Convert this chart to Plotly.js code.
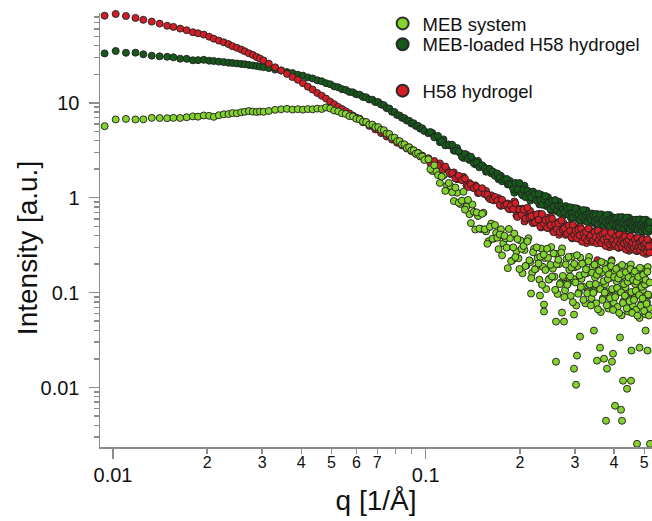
<!DOCTYPE html>
<html>
<head>
<meta charset="utf-8">
<script src="https://cdn.plot.ly/plotly-3.0.1.min.js"></script>
<style>
html,body{margin:0;padding:0;background:#fff;}
#chart{width:652px;height:521px;}
</style>
</head>
<body>
<div id="chart"></div>
<script>
// ---------- data ----------
const q = [
0.0094,0.0102,0.0110,0.0118,0.0125,0.0133,0.0141,0.0149,0.0156,0.0164,0.0172,0.0180,0.0187,0.0195,0.0203,0.0210,0.0218,0.0226,0.0234,0.0241,0.0249,0.0257,0.0264,0.0272,0.0280,0.0288,0.0295,0.0303,
0.0315,0.0330,0.0345,0.0360,0.0375,0.0390,0.0405,0.0420,0.0435,0.0450,0.0465,0.0480,0.0495,0.0510,0.0525,0.0540,0.0555,0.0570,0.0585,0.0600,0.0615,0.0630,0.0645,0.0660,0.0675,0.0690,0.0705,0.0720,0.0735,0.0750,0.0765,0.0780,0.0795,0.0810,0.0825,0.0840,0.0855,0.0870,0.0885,0.0900,0.0915,0.0930,0.0945,0.0960,0.0975,0.0990,
0.102,0.105,0.108,0.111,0.114,0.117,0.120,0.123,0.126,0.129,0.132,0.135,0.138,0.141,0.144,0.147,0.150,0.153,0.156,0.159,
0.162,0.165,0.168,0.171,0.174,0.177,0.180,0.183,0.186,0.189,0.192,0.195,0.198,0.201,0.204,0.207,0.210,0.213,0.216,0.219,
0.222,0.225,0.228,0.231,0.234,0.237,0.240,0.243,0.246,0.249,0.252,0.255,0.258,0.261,0.264,0.267,0.270,0.273,0.276,0.279,
0.282,0.285,0.288,0.291,0.294,0.297,0.300,0.303,0.306,0.309,0.312,0.315,0.318,0.321,0.324,0.327,0.330,0.333,0.336,0.339,
0.342,0.345,0.348,0.351,0.354,0.357,0.360,0.363,0.366,0.369,0.372,0.375,0.378,0.381,0.384,0.387,0.390,0.393,0.396,0.399,
0.402,0.405,0.408,0.411,0.414,0.417,0.420,0.423,0.426,0.429,0.432,0.435,0.438,0.441,0.444,0.447,0.450,0.453,0.456,0.459,
0.462,0.465,0.468,0.471,0.474,0.477,0.480,0.483,0.486,0.489,0.492,0.495,0.498,0.501,0.504,0.507,0.510,0.513,0.516,0.519
];

// second set of high-q points (between the ones above)
const q2 = [
0.1035,0.1065,0.1095,0.1125,0.1155,0.1185,0.1215,0.1245,0.1275,0.1305,0.1335,0.1365,0.1395,0.1425,0.1455,0.1485,0.1515,0.1545,0.1575,0.1605,
0.1635,0.1665,0.1695,0.1725,0.1755,0.1785,0.1815,0.1845,0.1875,0.1905,0.1935,0.1965,0.1995,0.2025,0.2055,0.2085,0.2115,0.2145,0.2175,0.2205,
0.2235,0.2265,0.2295,0.2325,0.2355,0.2385,0.2415,0.2445,0.2475,0.2505,0.2535,0.2565,0.2595,0.2625,0.2655,0.2685,0.2715,0.2745,0.2775,0.2805,
0.2835,0.2865,0.2895,0.2925,0.2955,0.2985,0.3015,0.3045,0.3075,0.3105,0.3135,0.3165,0.3195,0.3225,0.3255,0.3285,0.3315,0.3345,0.3375,0.3405,
0.3435,0.3465,0.3495,0.3525,0.3555,0.3585,0.3615,0.3645,0.3675,0.3705,0.3735,0.3765,0.3795,0.3825,0.3855,0.3885,0.3915,0.3945,0.3975,0.4005,
0.4035,0.4065,0.4095,0.4125,0.4155,0.4185,0.4215,0.4245,0.4275,0.4305,0.4335,0.4365,0.4395,0.4425,0.4455,0.4485,0.4515,0.4545,0.4575,0.4605,
0.4635,0.4665,0.4695,0.4725,0.4755,0.4785,0.4815,0.4845,0.4875,0.4905,0.4935,0.4965,0.4995,0.5025,0.5055,0.5085,0.5115,0.5145,0.5175,0.5205
];

const iH58 = [
82.9,86.4,82.3,78.5,75.0,71.8,68.4,65.0,63.2,60.6,58.3,55.5,54.1,52.4,49.8,47.5,45.3,43.5,41.6,39.6,38.0,36.5,34.9,33.3,32.0,30.4,29.3,28.0,
25.9,23.7,21.9,20.2,18.7,17.5,16.1,14.8,13.8,12.7,11.9,11.1,10.3,9.65,9.07,8.6,8.15,7.75,7.35,6.98,6.80,6.25,6.25,5.72,5.70,5.25,5.22,4.80,4.85,4.42,4.50,4.10,4.15,3.80,3.90,3.55,3.60,3.30,3.40,3.10,3.16,2.90,2.98,2.74,2.78,2.58,
2.61,2.27,2.25,2.30,1.86,1.96,1.78,1.85,1.57,1.58,
1.66,1.35,1.43,1.29,1.35,1.12,1.19,1.12,1.18,1.00,
1.06,0.94,0.95,0.99,0.82,0.88,0.825,0.87,0.755,0.775,
0.915,0.649,0.770,0.668,0.768,0.563,0.675,0.627,0.726,0.557,
0.659,0.550,0.594,0.676,0.486,0.585,0.533,0.617,0.480,0.526,
0.627,0.450,0.540,0.473,0.551,0.407,0.493,0.464,0.542,0.420,
0.502,0.419,0.454,0.519,0.373,0.450,0.411,0.478,0.374,0.410,
0.494,0.356,0.431,0.381,0.447,0.333,0.406,0.384,0.452,0.353,
0.425,0.357,0.390,0.448,0.22,0.395,0.363,0.424,0.333,0.369,
0.444,0.321,0.388,0.344,0.403,0.301,0.368,0.22,0.409,0.320,
0.385,0.325,0.354,0.407,0.296,0.360,0.331,0.388,0.304,0.337,
0.405,0.294,0.356,0.314,0.370,0.276,0.337,0.319,0.377,0.294,
0.354,0.299,0.326,0.376,0.273,0.332,0.306,0.358,0.281,0.311,
0.375,0.272,0.330,0.292,0.343,0.256,0.313,0.297,0.350,0.273
];
const iH58b = [
2.32,2.44,2.18,1.92,2.13,1.82,1.82,1.60,1.70,1.53,
1.59,1.30,1.38,1.26,1.30,1.135,1.26,1.09,1.08,0.968,
0.953,1.02,0.930,0.840,0.952,0.833,0.852,0.762,0.828,0.758,
0.877,0.627,0.749,0.661,0.748,0.603,0.786,0.621,0.639,0.539,
0.551,0.668,0.588,0.499,0.672,0.535,0.582,0.481,0.592,0.515,
0.601,0.434,0.525,0.468,0.536,0.437,0.575,0.459,0.476,0.406,
0.420,0.509,0.449,0.383,0.516,0.412,0.449,0.373,0.461,0.402,
0.473,0.344,0.419,0.377,0.435,0.356,0.473,0.380,0.398,0.341,
0.355,0.434,0.386,0.331,0.450,0.361,0.396,0.331,0.411,0.362,
0.426,0.310,0.378,0.340,0.392,0.322,0.428,0.344,0.360,0.310,
0.322,0.394,0.350,0.300,0.409,0.329,0.361,0.303,0.375,0.330,
0.389,0.284,0.346,0.311,0.360,0.296,0.392,0.316,0.332,0.284,
0.296,0.363,0.323,0.278,0.377,0.303,0.334,0.279,0.346,0.305,
0.360,0.263,0.320,0.289,0.334,0.275,0.365,0.294,0.308,0.264
];

const iLoaded = [
33.2,35.2,33.7,33.8,32.5,31.4,30.9,30.6,30.2,29.2,29.1,28.1,28.2,28.4,27.8,27.6,27.2,26.9,26.5,26.3,26.0,25.7,25.5,25.1,24.8,24.5,24.1,23.8,
23.25,22.4,21.95,21.1,20.6,19.8,19.35,18.55,18.1,17.3,16.9,16.1,15.7,14.9,14.6,13.95,13.7,13.05,12.9,12.3,12.2,11.55,11.45,10.85,10.8,10.2,10.2,9.6,9.45,8.8,8.7,8.05,8.0,7.45,7.35,6.95,6.9,6.5,6.48,6.05,6.1,5.7,5.72,5.35,5.4,5.05,
4.79,4.80,4.35,3.85,4.12,3.61,3.54,3.14,3.34,2.96,
2.63,2.84,2.50,2.54,2.25,2.44,2.16,2.12,1.88,2.02,
1.81,1.86,1.73,1.57,1.70,1.53,1.53,1.38,1.50,1.34,
1.13,1.40,1.17,1.28,1.06,1.34,1.10,1.13,0.933,1.14,
0.973,1.084,0.985,0.851,1.072,0.903,0.951,0.817,1.014,0.858,
0.733,0.922,0.774,0.859,0.716,0.908,0.756,0.782,0.650,0.801,
0.688,0.773,0.709,0.618,0.784,0.666,0.708,0.613,0.767,0.654,
0.564,0.716,0.607,0.679,0.572,0.733,0.614,0.642,0.538,0.669,
0.579,0.653,0.601,0.525,0.670,0.571,0.608,0.529,0.666,0.571,
0.495,0.630,0.537,0.603,0.510,0.657,0.553,0.579,0.487,0.608,
0.529,0.599,0.553,0.485,0.622,0.532,0.568,0.496,0.624,0.537,
0.464,0.592,0.505,0.567,0.481,0.617,0.520,0.545,0.459,0.573,
0.499,0.566,0.522,0.458,0.586,0.502,0.538,0.469,0.591,0.508,
0.439,0.561,0.478,0.537,0.455,0.586,0.494,0.517,0.436,0.545
];
const iLoadedb = [
4.93,4.33,4.48,3.95,3.56,3.64,3.62,3.12,3.06,2.71,
2.89,2.59,2.71,2.31,2.35,2.09,2.20,2.05,1.91,2.00,
1.89,1.70,1.80,1.62,1.49,1.56,1.58,1.39,1.38,1.24,
1.43,1.225,1.43,1.10,1.22,1.015,1.19,1.098,1.008,1.162,
1.096,0.934,1.103,0.948,0.845,0.968,1.042,0.853,0.891,0.754,
0.929,0.804,0.946,0.737,0.820,0.689,0.817,0.759,0.702,0.816,
0.775,0.666,0.794,0.688,0.618,0.714,0.776,0.640,0.674,0.575,
0.715,0.625,0.743,0.583,0.655,0.556,0.665,0.623,0.581,0.682,
0.652,0.563,0.673,0.585,0.528,0.613,0.667,0.552,0.585,0.502,
0.627,0.550,0.657,0.518,0.584,0.498,0.598,0.562,0.526,0.619,
0.596,0.516,0.619,0.540,0.490,0.570,0.622,0.518,0.548,0.472,
0.589,0.516,0.618,0.487,0.550,0.468,0.563,0.529,0.496,0.584,
0.562,0.487,0.585,0.511,0.462,0.539,0.589,0.489,0.519,0.446,
0.557,0.490,0.585,0.461,0.521,0.444,0.534,0.502,0.471,0.555
];

const iMeb = [
5.68,6.68,6.77,6.68,6.70,6.95,6.92,6.89,6.95,6.93,7.05,7.20,7.15,7.36,7.30,7.12,7.40,7.58,7.62,7.80,7.75,7.95,8.05,8.20,8.08,8.02,8.10,8.05,
8.21,8.45,8.55,8.65,8.50,8.58,8.48,8.60,8.55,8.70,8.62,8.95,8.72,8.30,8.12,7.75,7.65,7.25,7.18,6.80,6.70,6.35,6.28,5.90,5.90,5.55,5.55,5.20,5.15,4.75,4.70,4.30,4.30,3.95,3.95,3.65,3.65,3.35,3.40,3.15,3.16,2.92,2.95,2.73,2.72,2.50,
2.54,1.91,1.90,1.43,1.72,1.34,1.33,0.923,1.13,0.859,
1.156,0.805,0.671,0.849,0.462,0.642,0.468,0.695,0.442,0.349,
0.534,0.370,0.425,0.287,0.465,0.332,0.373,0.181,0.374,0.218,
0.420,0.273,0.230,0.354,0.160,0.281,0.193,0.374,0.210,0.162,
0.290,0.179,0.231,0.137,0.292,0.187,0.232,0.109,0.233,0.140,
0.302,0.179,0.147,0.257,0.0967,0.200,0.127,0.293,0.145,0.106,
0.224,0.125,0.174,0.0923,0.239,0.139,0.185,0.0731,0.190,0.1005,
0.234,0.140,0.116,0.204,0.077,0.160,0.1025,0.238,0.1185,0.0873,
0.185,0.1032,0.1445,0.0772,0.201,0.1176,0.157,0.0624,0.163,0.0874,
0.204,0.1225,0.1015,0.180,0.068,0.1417,0.0912,0.213,0.1062,0.0785,
0.1668,0.0936,0.1315,0.0706,0.185,0.1083,0.1457,0.0578,0.1514,0.0811,
0.189,0.1137,0.0943,0.167,0.0633,0.1318,0.0849,0.198,0.099,0.0732,
0.1555,0.0873,0.1228,0.0659,0.1726,0.1013,0.1363,0.0541,0.1418,0.076,
0.1775,0.1066,0.0884,0.1568,0.0593,0.1237,0.0797,0.186,0.093,0.0688
];
const iMebb = [
2.00,2.20,1.73,1.67,1.18,1.43,1.14,1.28,0.885,0.933,
0.749,0.948,0.540,0.712,0.701,0.474,0.677,0.465,0.327,0.493,
0.370,0.515,0.379,0.410,0.247,0.397,0.298,0.469,0.215,0.300,
0.237,0.367,0.177,0.289,0.310,0.191,0.348,0.219,0.142,0.266,
0.176,0.300,0.203,0.239,0.121,0.252,0.173,0.290,0.137,0.196,
0.148,0.259,0.107,0.200,0.222,0.123,0.265,0.150,0.0897,0.198,
0.121,0.238,0.148,0.184,0.0793,0.201,0.128,0.248,0.0973,0.152,
0.1146,0.202,0.0838,0.158,0.176,0.0985,0.214,0.122,0.0732,0.162,
0.0994,0.197,0.123,0.154,0.0667,0.170,0.109,0.211,0.0838,0.132,
0.100,0.177,0.0736,0.139,0.156,0.0873,0.190,0.109,0.0656,0.146,
0.0898,0.178,0.112,0.141,0.0612,0.157,0.1008,0.196,0.0777,0.123,
0.0928,0.164,0.0683,0.130,0.145,0.0812,0.177,0.1016,0.0611,0.136,
0.0837,0.167,0.1047,0.131,0.0572,0.1465,0.0943,0.183,0.0727,0.115,
0.0869,0.154,0.0641,0.1217,0.136,0.0762,0.166,0.0955,0.0574,0.128
];

// scattered low points of the MEB system at high q
const qMebLow = [0.2172,0.2320,0.2389,0.2389,0.2610,0.2769,0.2728,0.2980,0.3115,0.3047,0.2610,0.2980,0.3025,0.3530,0.3717,0.3800,0.3942,0.3972,0.4276,0.4535,0.4404,0.4031,0.4213,0.3772,0.4245,0.4740,0.5215,0.345,0.361,0.418,0.455,0.483,0.505,0.512];
const iMebLow = [0.0978,0.0932,0.0749,0.0632,0.0495,0.0495,0.0616,0.0587,0.0344,0.0217,0.0187,0.0158,0.0107,0.0192,0.0201,0.0158,0.0187,0.0227,0.0118,0.0118,0.0097,0.00642,0.00583,0.00446,0.00446,0.00255,0.00255,0.0398,0.0263,0.0337,0.0245,0.0263,0.0398,0.0245];

const seriesNames = ['MEB system', 'MEB-loaded H58 hydrogel', 'H58 hydrogel'];
const xTitle = 'q [1/Å]';
const yTitle = 'Intensity [a.u.]';

// tick labels
const xMajorVals = [0.01, 0.1];
const xMajorText = ['0.01', '0.1'];
const xDigitVals = [0.02,0.03,0.04,0.05,0.06,0.07,0.2,0.3,0.4,0.5];
const xDigitText = ['2','3','4','5','6','7','2','3','4','5'];
const xMinorVals = [0.02,0.03,0.04,0.05,0.06,0.07,0.08,0.09,0.2,0.3,0.4,0.5];
const yMajorVals = [0.01, 0.1, 1, 10];
const yMajorText = ['0.01', '0.1', '1', '10'];
const yMinorVals = [0.003,0.004,0.005,0.006,0.007,0.008,0.009,
  0.02,0.03,0.04,0.05,0.06,0.07,0.08,0.09,
  0.2,0.3,0.4,0.5,0.6,0.7,0.8,0.9,
  2,3,4,5,6,7,8,9,
  20,30,40,50,60,70,80];

// ---------- styling ----------
const FONT = 'Liberation Sans, Arial, Helvetica, sans-serif';
const AXC = '#8c8c8c';
const X_RANGE = [-2.0416, -0.2763];
const Y_RANGE = [-2.627, 1.947];
const OUTLINE = {color: 'rgba(35,35,35,0.95)', width: 1};

const traceLoaded = {
  type: 'scatter', mode: 'markers', x: q.concat(q2), y: iLoaded.concat(iLoadedb), name: seriesNames[1],
  legend: 'legend2', cliponaxis: false, hoverinfo: 'x+y',
  marker: {size: 7, color: '#155A1A', line: OUTLINE}
};
const traceH58 = {
  type: 'scatter', mode: 'markers', x: q.concat(q2), y: iH58.concat(iH58b), name: seriesNames[2],
  legend: 'legend3', cliponaxis: false, hoverinfo: 'x+y',
  marker: {size: 7, color: '#D21F27', line: OUTLINE}
};
const traceMeb = {
  type: 'scatter', mode: 'markers', x: q.concat(q2, qMebLow), y: iMeb.concat(iMebb, iMebLow), name: seriesNames[0],
  legend: 'legend', cliponaxis: false, hoverinfo: 'x+y',
  marker: {size: 7, color: '#84D22E', line: OUTLINE}
};
const traceDigits = {
  type: 'scatter', mode: 'markers', x: [], y: [], xaxis: 'x2', yaxis: 'y',
  showlegend: false, hoverinfo: 'skip'
};

const legendBase = {
  xanchor: 'left', yanchor: 'middle', bgcolor: 'rgba(0,0,0,0)', borderwidth: 0,
  font: {family: FONT, size: 18.5, color: '#111'}, itemsizing: 'constant'
};

const layout = {
  width: 652, height: 521,
  margin: {l: 100, r: 0, t: 13, b: 74, pad: 0},
  paper_bgcolor: '#ffffff', plot_bgcolor: '#ffffff',
  font: {family: FONT, color: '#111'},
  showlegend: true,
  legend: Object.assign({}, legendBase, {x: 0.512, y: 0.975}),
  legend2: Object.assign({}, legendBase, {x: 0.512, y: 0.927}),
  legend3: Object.assign({}, legendBase, {x: 0.512, y: 0.82}),
  xaxis: {
    type: 'log', range: X_RANGE, showgrid: false, zeroline: false,
    showline: true, linecolor: AXC, linewidth: 1.5,
    ticks: 'outside', ticklen: 10, tickwidth: 1.5, tickcolor: AXC,
    tickmode: 'array', tickvals: xMajorVals, ticktext: xMajorText,
    tickfont: {family: FONT, size: 20, color: '#111'}, ticklabelstandoff: -1,
    minor: {tickmode: 'array', tickvals: xMinorVals, ticks: 'outside', ticklen: 5, tickwidth: 1.5, tickcolor: AXC, showgrid: false},
    title: {text: xTitle, font: {family: FONT, size: 28, color: '#111'}, standoff: 4}
  },
  xaxis2: {
    type: 'log', range: X_RANGE, overlaying: 'x', anchor: 'y', side: 'bottom',
    showgrid: false, zeroline: false, showline: false,
    ticks: 'outside', ticklen: 1, tickcolor: 'rgba(0,0,0,0)',
    tickmode: 'array', tickvals: xDigitVals, ticktext: xDigitText,
    tickfont: {family: FONT, size: 16, color: '#111'}
  },
  yaxis: {
    type: 'log', range: Y_RANGE, showgrid: false, zeroline: false,
    showline: true, linecolor: AXC, linewidth: 1.5,
    ticks: 'outside', ticklen: 10, tickwidth: 1.5, tickcolor: AXC,
    tickmode: 'array', tickvals: yMajorVals, ticktext: yMajorText,
    tickfont: {family: FONT, size: 20, color: '#111'}, ticklabelstandoff: 5,
    minor: {tickmode: 'array', tickvals: yMinorVals, ticks: 'outside', ticklen: 5, tickwidth: 1.5, tickcolor: AXC, showgrid: false}
  },
  annotations: [{
    text: yTitle, xref: 'paper', yref: 'paper', x: -0.132, y: 0.4585,
    xanchor: 'center', yanchor: 'middle', textangle: -90, showarrow: false,
    font: {family: FONT, size: 28, color: '#111'}
  }]
};

Plotly.newPlot('chart', [traceLoaded, traceH58, traceMeb, traceDigits], layout, {displayModeBar: false, staticPlot: true});
</script>
</body>
</html>
